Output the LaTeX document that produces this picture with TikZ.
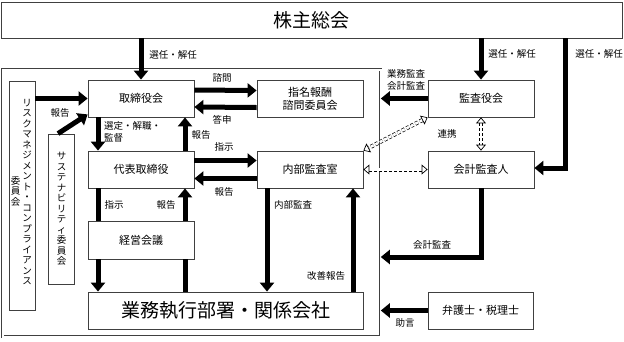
\documentclass[tikz,border=0pt]{standalone}
\usepackage{fontspec}
\setmainfont{Noto Sans CJK JP}
\usetikzlibrary{arrows.meta}

\begin{document}
\begin{tikzpicture}[x=1pt,y=-1pt]
    % Corporate governance chart; coordinates are read in pixels, y downwards.

    \tikzset{
      box/.style={draw=black!75, line width=0.8pt, minimum width=106pt, minimum height=37pt,
        inner sep=0pt, align=center, font=\fontsize{11}{13.5}\selectfont},
      bigbox/.style={box, font=\fontsize{19}{22}\selectfont},
      tatebox/.style={draw=black!75, line width=0.8pt, minimum width=26pt, inner sep=0pt},
      tate/.style={align=center, inner sep=0pt, font=\fontsize{9.5}{10.5}\selectfont},
      frame/.style={draw=black!75, line width=0.6pt, double, double distance=2pt, inner sep=0pt},
      arr/.style={-{Triangle[length=9pt,width=14pt]}, line width=5pt},
      bar/.style={line width=5pt},
      darr/.style={{Triangle[open,length=6pt,width=10pt]}-{Triangle[open,length=6pt,width=10pt]},
        double, double distance=2.6pt, line width=0.7pt, dash pattern=on 3pt off 2pt},
      note/.style={font=\fontsize{9.5}{12}\selectfont, inner sep=0pt, align=center}
    }

    \useasboundingbox (0,0) rectangle (624,341);

    % --- Top: shareholders meeting and the company frame
    \node[bigbox, minimum width=621pt, minimum height=36pt] (kabunushi) at (311.5,20) {株主総会};
    \node[frame, minimum width=378pt, minimum height=267pt] (group) at (191.5,203) {};

    % --- Boxes inside the frame
    \node[box] (torishimariyaku) at (141,98.5) {取締役会};
    \node[box] (shimei) at (310,99) {指名報酬\\諮問委員会};
    \node[box] (daihyo) at (141,169.5) {代表取締役};
    \node[box] (naibu) at (310,169.5) {内部監査室};
    \node[box, minimum height=38pt] (keiei) at (141,240) {経営会議};
    \node[box, minimum width=275pt, font=\fontsize{19}{22}\selectfont] (gyomu) at (225.5,310.5) {業務執行部署・関係会社};

    % --- Committees, written top to bottom
    \node[tatebox, minimum height=229pt] (risk) at (22,195.5) {};
    \node[tate, anchor=north] (riskA) at (27,99) {リ\\ス\\ク\\マ\\ネ\\ジ\\メ\\ン\\ト\\・\\コ\\ン\\プ\\ラ\\イ\\ア\\ン\\ス};
    \node[tate, anchor=north] (riskB) at (15.5,176) {委\\員\\会};
    \node[tatebox, minimum height=150pt] (sust) at (61,209) {};
    \node[tate, anchor=north] (sustA) at (61.5,152) {サ\\ス\\テ\\ナ\\ビ\\リ\\テ\\ィ\\委\\員\\会};

    % --- Boxes outside the frame
    \node[box] (kansayaku) at (481,98.5) {監査役会};
    \node[box] (kaikei) at (481,169.5) {会計監査人};
    \node[box, minimum width=105pt] (bengoshi) at (480.5,310.5) {弁護士・税理士};
    \coordinate (bend) at (565,168);
    \coordinate (kbend) at (481,257);

    % --- Thick arrows
    \draw[arr] (kabunushi.south -| torishimariyaku) -- (torishimariyaku.north);
    \draw[arr] (kabunushi.south -| kansayaku) -- (kansayaku.north);
    \draw[arr] (kabunushi.south -| bend) -- (bend) -- (kaikei.east |- bend);
    \draw[arr] (risk.east |- torishimariyaku.west) -- (torishimariyaku.west);
    \draw[arr] ([xshift=-3pt]sust.north) -- ([yshift=3pt]torishimariyaku.south west);
    \draw[arr] ([yshift=8.5pt]torishimariyaku.east) -- ([yshift=8.5pt]shimei.west);
    \draw[arr] ([yshift=-8.5pt]shimei.west) -- ([yshift=-8.5pt]torishimariyaku.east);
    \draw[arr] ([xshift=-43pt]torishimariyaku.south) -- ([xshift=-43pt]daihyo.north);
    \draw[arr] ([xshift=44pt]daihyo.north) -- ([xshift=44pt]torishimariyaku.south);
    \draw[arr] ([yshift=9pt]daihyo.east) -- ([yshift=9pt]naibu.west);
    \draw[arr] ([yshift=-9pt]naibu.west) -- ([yshift=-9pt]daihyo.east);
    \draw[bar] ([xshift=-43pt]daihyo.south) -- ([xshift=-43pt]keiei.north);
    \draw[arr] ([xshift=-43pt]keiei.south) -- ([xshift=-43pt]keiei.south |- gyomu.north);
    \draw[bar] ([xshift=44pt]keiei.south |- gyomu.north) -- ([xshift=44pt]keiei.south);
    \draw[arr] ([xshift=44pt]keiei.north) -- ([xshift=44pt]daihyo.south);
    \draw[arr] ([xshift=-43pt]naibu.south) -- ([xshift=-43pt]naibu.south |- gyomu.north);
    \draw[arr] ([xshift=43pt]naibu.south |- gyomu.north) -- ([xshift=43pt]naibu.south);
    \draw[arr] (kansayaku.west) -- (kansayaku.west -| group.east);
    \draw[arr] (kaikei.south) -- (kbend) -- (kbend -| group.east);
    \draw[arr] (bengoshi.west) -- (bengoshi.west -| group.east);

    % --- Dashed links between the auditors
    \draw[darr] (kansayaku.south) -- (kaikei.north);
    \draw[darr] (naibu.east) -- (kaikei.west);
    \draw[darr] (kansayaku.south west) -- (naibu.north east);

    % --- Arrow texts
    \node[note] (n1) at (173,55) {選任・解任};
    \node[note] (n2) at (512,54) {選任・解任};
    \node[note] (n3) at (599,54) {選任・解任};
    \node[note] (n4) at (406,80) {業務監査\\会計監査};
    \node[note] (n5) at (60,113) {報告};
    \node[note] (n6) at (222,78) {諮問};
    \node[note] (n7) at (222,120) {答申};
    \node[note, align=left, anchor=north west] (n8) at (104,121) {選定・解職・\\監督};
    \node[note] (n9) at (201,135) {報告};
    \node[note] (n10) at (224,147) {指示};
    \node[note] (n11) at (224,192) {報告};
    \node[note] (n12) at (114,205) {指示};
    \node[note] (n13) at (166,205) {報告};
    \node[note] (n14) at (293,205) {内部監査};
    \node[note] (n15) at (326,276) {改善報告};
    \node[note] (n16) at (447,134) {連携};
    \node[note] (n17) at (432,245) {会計監査};
    \node[note] (n18) at (405,323) {助言};
  \end{tikzpicture}
\end{document}
